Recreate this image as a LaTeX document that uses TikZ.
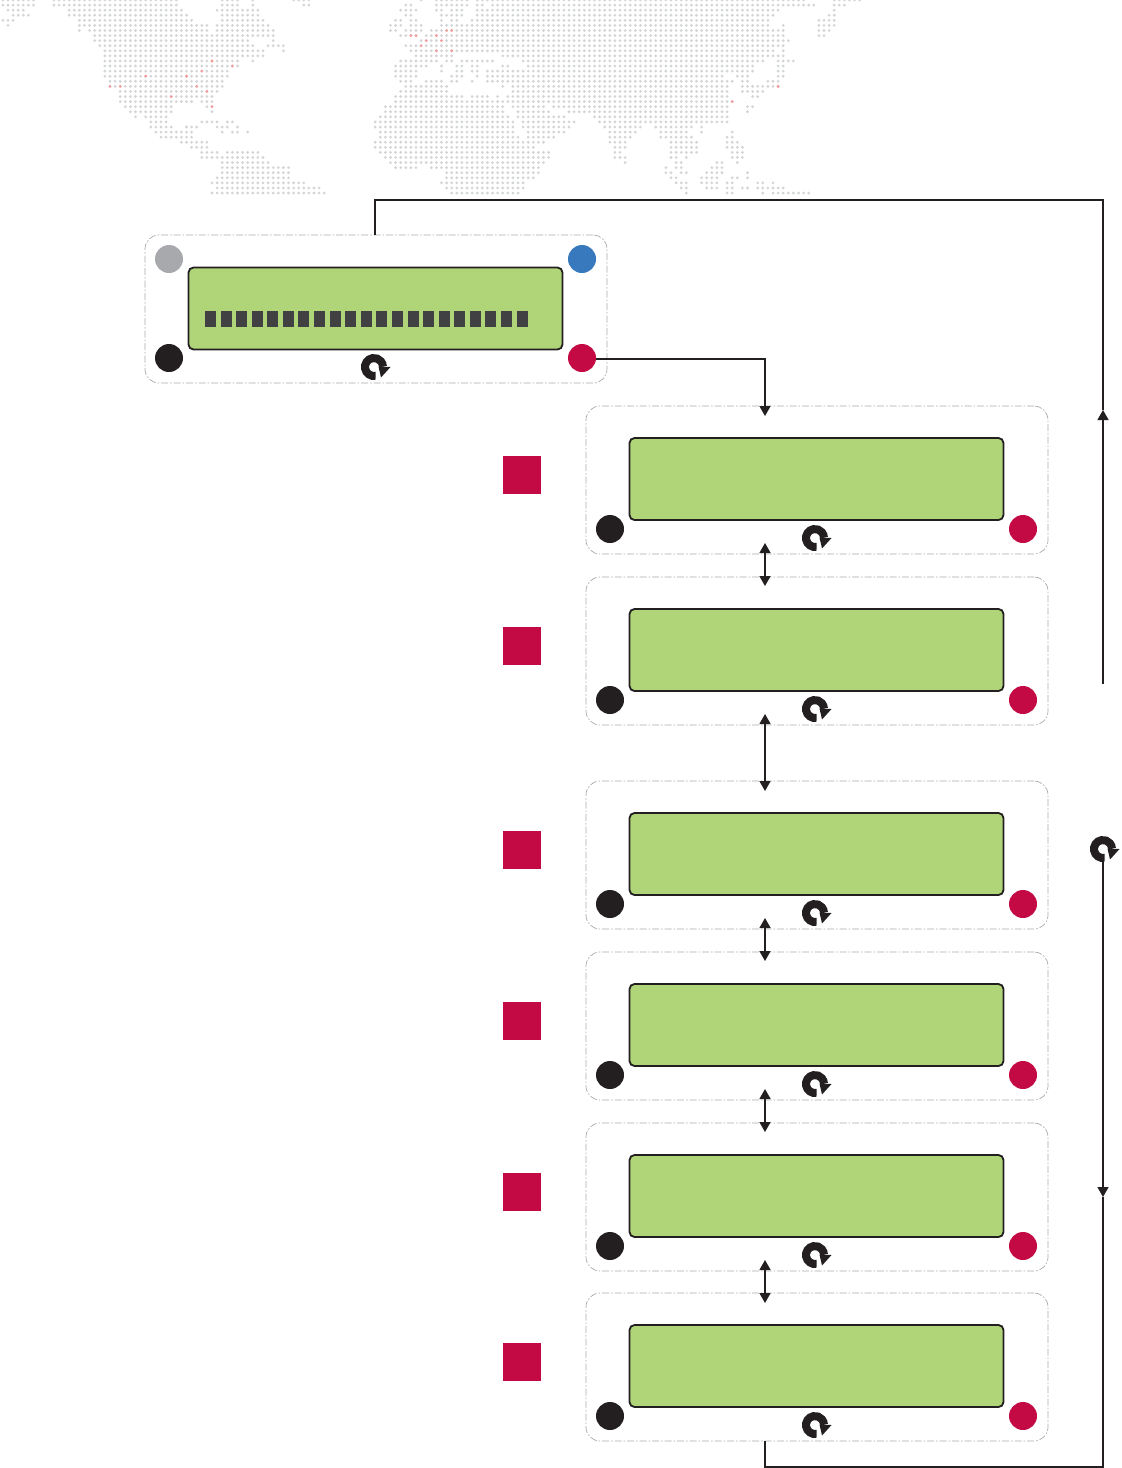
\documentclass[tikz,border=0pt]{standalone}
\usepackage{tikz}
\usetikzlibrary{arrows.meta}
\usetikzlibrary{calc}
\definecolor{lcdgreen}{HTML}{B0D578}
\definecolor{inkblack}{HTML}{231F20}
\definecolor{btngray}{HTML}{A7A9AC}
\definecolor{btnblue}{HTML}{3878BC}
\definecolor{btnred}{HTML}{C40A45}
\definecolor{barcol}{HTML}{414042}
\definecolor{dotgray}{HTML}{D4D5D6}
\definecolor{dotred}{HTML}{F79A9A}
\tikzset{
  panelbox/.style={draw=btngray, line width=0.7pt, dash pattern=on 7pt off 2pt on 1.5pt off 2pt, rounded corners=14pt, minimum width=462pt, minimum height=148pt, inner sep=0pt, outer sep=0pt},
  lcd/.style={draw=inkblack, fill=lcdgreen, line width=1.8pt, rounded corners=5pt, minimum width=374pt, minimum height=82pt, inner sep=0pt, outer sep=0pt},
  btn/.style={circle, minimum size=28pt, inner sep=0pt, outer sep=0pt},
  redsq/.style={fill=btnred, minimum size=38pt, inner sep=0pt, outer sep=0pt},
  barcell/.style={fill=barcol, minimum width=11pt, minimum height=16pt, inner sep=0pt, outer sep=0pt},
  wire/.style={draw=inkblack, line width=1.4pt},
  rotary/.pic={
    \draw[inkblack, line width=8pt] (-80:9pt) arc[start angle=-80, end angle=-358, radius=9pt];
    \fill[inkblack] (16.5pt,0pt) -- (4.5pt,0.5pt) -- (7pt,-10.5pt) -- cycle;
  },
}
% map dots: row / {first/last column, ...}
\def\maprows{%
0/{0/6,10/34,43/46,49/49,57/60,82/82,85/91,93/157,163/168},%
1/{0/6,10/34,43/46,49/49,59/60,79/80,85/91,93/94,96/159,163/165},%
2/{1/4,13/35,42/50,78/81,85/86,88/90,93/152,163/163},%
3/{2/5,13/36,43/50,79/80,86/90,93/151,162/163},%
4/{0/2,15/37,43/51,77/78,80/81,86/86,88/89,92/150,160/163},%
5/{1/1,15/40,42/52,76/78,80/82,86/150,153/153,160/163},%
6/{15/15,17/40,42/53,76/77,79/82,84/153,160/162},%
7/{18/53,78/81,83/153,160/161},%
8/{18/48,53/53,82/154},%
9/{19/49,52/55,79/153},%
10/{20/51,55/55,80/151,153/153},%
11/{20/51,81/88,98/153},%
12/{20/46,49/49,78/85,87/88,90/96,102/149,152/155},%
13/{20/46,77/83,86/86,89/90,92/93,98/99,103/147,152/153},%
14/{20/44,77/81,86/86,89/90,92/93,95/147,152/153},%
15/{20/44,77/81,88/90,93/93,95/141,144/146,152/153},%
16/{21/43,78/80,83/86,88/89,92/92,95/143,145/146,150/152},%
17/{21/43,79/87,98/98,100/142,145/152},%
18/{23/42,78/87,100/142,145/149},%
19/{23/41,77/90,92/95,97/97,99/142,147/148},%
20/{23/37,39/41,77/98,99/143},%
21/{24/33,40/41,75/98,100/106,108/142,146/147},%
22/{25/33,41/41,75/98,101/107,111/142,146/146},%
23/{26/26,28/32,74/99,101/110,116/142},%
24/{29/32,39/42,44/45,73/100,102/112,117/142},%
25/{29/33,36/38,42/44,46/46,73/100,102/111,118/125,128/135,137/137},%
26/{30/37,43/43,45/46,48/48,74/100,103/110,119/124,129/134,137/137,143/143},%
27/{31/37,74/101,103/108,119/123,129/135,142/143},%
28/{35/40,73/106,119/122,131/136,142/144},%
29/{37/40,73/104,120/122,131/136,142/145},%
30/{39/42,44/50,74/107,120/121,131/136,143/145},%
31/{39/51,75/107,120/122,131/132,134/134,143/145},%
32/{43/52,76/106,122/122,132/133,140/141,144/144},%
33/{43/56,77/81,84/105,130/130,132/133,139/141},%
34/{43/56,87/105,130/131,133/134,138/141,146/146},%
35/{42/56,87/104,131/132,137/140,143/144,146/146},%
36/{41/59,86/102,132/134,137/140,142/143,148/149,151/151},%
37/{42/62,87/102,133/134,138/140,142/143,145/146,148/153},%
38/{41/63,88/101,134/134,142/143,149/149,151/158}%
}
\begin{document}
\begin{tikzpicture}[x=1pt, y=-1pt, >=stealth]
\useasboundingbox (0,0) rectangle (1122,1468);
\foreach \k/\runs in \maprows {
  \foreach \a/\b in \runs {
    \foreach \j in {\a,...,\b} {
      \fill[dotgray] ({2.9+5.1*\j},{5.08*\k}) circle (1.55pt);
    }
  }
}
\foreach \j/\k in {41/12,45/13,39/14,28/15,36/15,21/17,23/17,38/17,40/18,33/19,41/21,80/7,81/7,87/6,88/6,85/7,83/8,86/8,82/9,85/10,88/10,152/17,143/20} {
  \fill[dotred] ({2.9+5.1*\j},{5.08*\k}) circle (1.55pt);
}

\node[panelbox] (p1) at (376, 309) {};
\node[lcd] (lcd1) at (375.5, 308.5) {};
\node[btn, fill=btngray] (gray1) at (169, 259) {};
\node[btn, fill=btnblue] (blue1) at (582, 259) {};
\node[btn, fill=inkblack] (black1) at (169, 358) {};
\node[btn, fill=btnred] (red1) at (582, 358) {};
\pic at (374, 367) {rotary};
\foreach \i in {0,...,20} {
  \node[barcell] (bar\i) at ({210.5+15.58*\i}, 319) {};
}

\foreach \i/\y in {2/406, 3/577, 4/781, 5/952, 6/1123, 7/1293} {
  \node[panelbox] (p\i) at (817, \y+74) {};
  \node[lcd] (lcd\i) at (816.5, \y+73) {};
  \node[btn, fill=inkblack] (black\i) at (610, \y+123) {};
  \node[btn, fill=btnred] (red\i) at (1023, \y+123) {};
  \node[redsq] (sq\i) at (522, \y+69) {};
  \pic at (815, \y+132) {rotary};
}

\coordinate (a0) at (596, 359);
\coordinate (a1) at (765, 359);
\coordinate (a2) at (765, 416);
\draw[wire, -{Triangle[length=10pt,width=11pt]}] (a0) -- (a1) -- (a2);

\foreach \u/\v in {543/586, 714/791, 918/961, 1089/1132, 1260/1303} {
  \coordinate (u\u) at (765, \u);
  \coordinate (v\u) at (765, \v);
  \draw[wire, {Triangle[length=10pt,width=11pt]}-{Triangle[length=10pt,width=11pt]}] (u\u) -- (v\u);
}

\coordinate (up0) at (1103, 684);
\coordinate (up1) at (1103, 410);
\coordinate (up2) at (1103, 200);
\coordinate (up3) at (375, 235);
\draw[wire, -{Triangle[length=10pt,width=11pt]}] (up0) -- (up1);
\draw[wire] (up1) -- (up2) -| (up3);

\pic at (1103, 849) {rotary};
\coordinate (dn0) at (765, 1441);
\coordinate (dn1) at (765, 1467);
\coordinate (dn2) at (1103, 1467);
\coordinate (dn3) at (1103, 860);
\coordinate (dn4) at (1103, 1197);
\draw[wire] (dn0) -- (dn1) -- (dn2) -- (dn4);
\draw[wire, -{Triangle[length=10pt,width=11pt]}] (dn3) -- (dn4);
\end{tikzpicture}
\end{document}
